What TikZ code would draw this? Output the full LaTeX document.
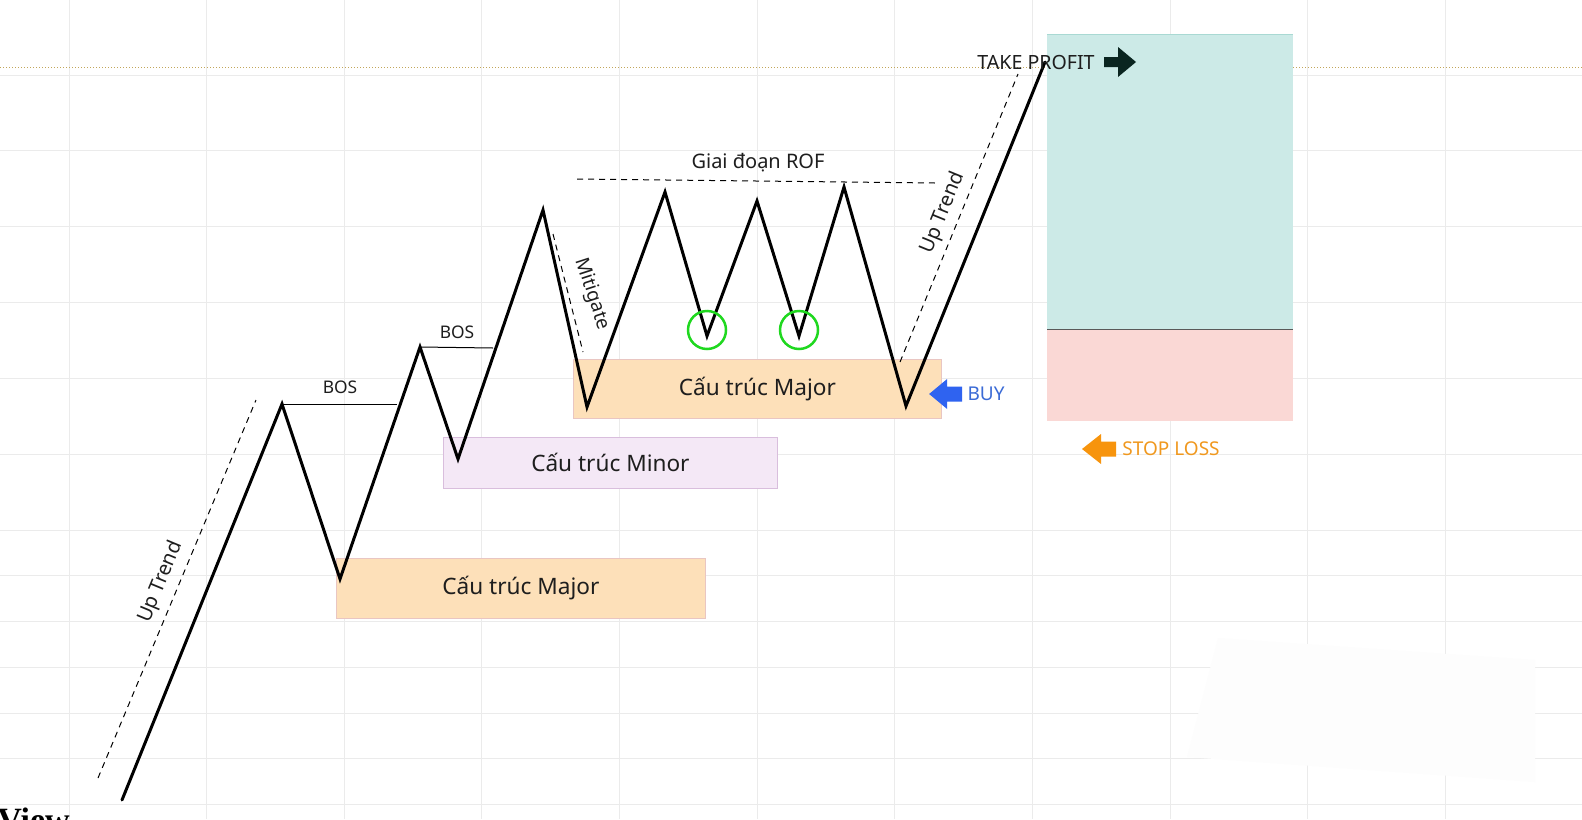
\documentclass[tikz,border=0pt]{standalone}
\usepackage{fontspec}
\setmainfont{Noto Sans}
\newfontfamily\viewfont{Liberation Serif}
\usetikzlibrary{positioning}

\definecolor{ink}{HTML}{1E1E1E}
\definecolor{gridgray}{HTML}{EBEBEB}
\definecolor{peach}{HTML}{FDE0B9}
\definecolor{peachline}{HTML}{E9C6C2}
\definecolor{lavender}{HTML}{F4E8F6}
\definecolor{lavenderline}{HTML}{D9BEDD}
\definecolor{profit}{HTML}{CCEAE7}
\definecolor{profitline}{HTML}{A9D9D3}
\definecolor{loss}{HTML}{FAD8D5}
\definecolor{ringgreen}{HTML}{1FD81F}
\definecolor{buyblue}{HTML}{2F63F0}
\definecolor{buytext}{HTML}{3B6BD6}
\definecolor{slorange}{HTML}{F7940D}
\definecolor{sltext}{HTML}{F0981E}
\definecolor{tpdark}{HTML}{0A2520}
\definecolor{level}{HTML}{C2A65A}

\begin{document}
\begin{tikzpicture}[x=0.5pt, y=-0.5pt,
  price/.style={line width=1.5pt, line join=miter, line cap=round},
  guide/.style={line width=0.5pt, dash pattern=on 3pt off 2.5pt},
  zone/.style={draw=#1, line width=0.4pt, anchor=north west, inner sep=0pt,
    font=\fontsize{11.3}{13}\selectfont, text=ink},
  tag/.style={inner sep=0pt, font=\fontsize{8.7}{10}\selectfont, text=ink}]

  \useasboundingbox[fill=white] (0,0) rectangle (1582,819);

  % chart grid
  \foreach \gx in {0,...,10}
    \draw[gridgray, line width=0.5pt] (69+137.65*\gx,0) -- (69+137.65*\gx,819);
  \foreach \gy in {75,150,226,302,378,454,530,575,621,667,713,758,804}
    \draw[gridgray, line width=0.5pt] (0,\gy) -- (1582,\gy);
  \fill[white!99.3!black] (1218,638) -- (1535,660) -- (1535,782) -- (1187,757) -- cycle;

  \draw[level, line width=0.5pt, dash pattern=on 0.6pt off 0.9pt] (0,67) -- (1582,67);

  % take profit / stop loss
  \fill[profit] (1047,34) rectangle (1293,329);
  \draw[profitline, line width=0.4pt] (1047,34) -- (1293,34);
  \fill[loss] (1047,329) rectangle (1293,421);
  \draw[black!65, line width=0.4pt] (1047,329) -- (1293,329);

  % structure zones
  \node[zone=peachline, fill=peach, minimum width=184.5pt, minimum height=30pt]
    (major1) at (336,558) {Cấu trúc Major};
  \node[zone=lavenderline, fill=lavender, minimum width=167pt, minimum height=25.5pt]
    (minor) at (443,437) {Cấu trúc Minor};
  \node[zone=peachline, fill=peach, minimum width=184pt, minimum height=29.5pt]
    (major2) at (573,359) {Cấu trúc Major};

  % price swings
  \coordinate (s0) at (122,800);
  \coordinate (p1) at (282,404);
  \coordinate (t1) at (340,579);
  \coordinate (p2) at (420,347);
  \coordinate (t2) at (458,459);
  \coordinate (p3) at (543,210);
  \coordinate (t3) at (587,407);
  \coordinate (p4) at (665,192);
  \coordinate (t4) at (707,336);
  \coordinate (p5) at (757,201);
  \coordinate (t5) at (799,336);
  \coordinate (p6) at (844,187);
  \coordinate (t6) at (906,406);
  \coordinate (e0) at (1045,62);
  \draw[price] (s0) -- (p1) -- (t1) -- (p2) -- (t2) -- (p3) -- (t3) -- (p4) -- (t4)
    -- (p5) -- (t5) -- (p6) -- (t6) -- (e0);

  % break of structure
  \coordinate (bos1end) at (397,404);
  \coordinate (bos2end) at (493,348);
  \draw[line width=0.5pt] (p1) -- (bos1end);
  \draw[line width=0.5pt] (p2) -- (bos2end);
  \node[tag] (bos1) at (340,387) {BOS};
  \node[tag] (bos2) at (457,332) {BOS};

  % trend guides
  \coordinate (ut1a) at (98,778);
  \coordinate (ut1b) at (256,400);
  \draw[guide] (ut1a) -- (ut1b);
  \node[tag, rotate=67.5, font=\fontsize{10}{11}\selectfont] (uptrend1) at (161,582) {Up Trend};
  \coordinate (ut2a) at (900,362);
  \coordinate (ut2b) at (1018,74);
  \draw[guide] (ut2a) -- (ut2b);
  \node[tag, rotate=67.8, font=\fontsize{10}{11}\selectfont] (uptrend2) at (943,213) {Up Trend};
  \coordinate (mita) at (553,234);
  \coordinate (mitb) at (583,352);
  \draw[guide] (mita) -- (mitb);
  \node[tag, rotate=-72, font=\fontsize{9.6}{11}\selectfont] (mitigate) at (592,294) {Mitigate};

  % range of fluctuation
  \coordinate (rofa) at (577,179);
  \coordinate (rofb) at (935,183);
  \draw[guide] (rofa) -- (rofb);
  \node[tag, font=\fontsize{10}{11}\selectfont] (rof) at (758,163) {Giai đoạn ROF};
  \draw[ringgreen, line width=1.25pt] (t4) ++(0,-6) circle (19);
  \draw[ringgreen, line width=1.25pt] (t5) ++(0,-6) circle (19);

  % orders
  \node[tag, text=buytext, font=\fontsize{9.5}{10}\selectfont] (buy) at (986,394) {BUY};
  \fill[buyblue] ([xshift=-2.5pt]buy.west) ++(0,-7.5) -- ++(-15,0) -- ++(0,-7.5)
    -- ++(-18,15) -- ++(18,15) -- ++(0,-7.5) -- ++(15,0) -- cycle;
  \node[tag, text=sltext, font=\fontsize{9.5}{10}\selectfont] (sl) at (1171,449) {STOP LOSS};
  \fill[slorange] ([xshift=-3pt]sl.west) ++(0,-7.5) -- ++(-15,0) -- ++(0,-7.5)
    -- ++(-19,15) -- ++(19,15) -- ++(0,-7.5) -- ++(15,0) -- cycle;
  \node[tag, font=\fontsize{9.8}{11}\selectfont] (tp) at (1036,62) {TAKE PROFIT};
  \fill[tpdark] ([xshift=4.5pt]tp.east) ++(0,-5) -- ++(14,0) -- ++(0,-10)
    -- ++(18,15) -- ++(-18,15) -- ++(0,-10) -- ++(-14,0) -- cycle;

  \node[anchor=north west, inner sep=0pt, font=\viewfont\bfseries\fontsize{17}{17}\selectfont]
    (logo) at (-3,807) {View};

\end{tikzpicture}
\end{document}
